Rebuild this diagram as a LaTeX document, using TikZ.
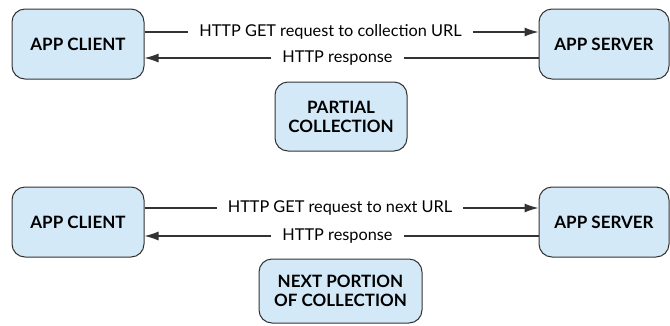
\documentclass[tikz,border=0pt]{standalone}
\usepackage{fontspec}
\setmainfont{Lato}
\usetikzlibrary{arrows.meta}
\definecolor{boxfill}{HTML}{D4E9F7}
\definecolor{boxline}{HTML}{333333}
\tikzset{
  box/.style={draw=boxline, fill=boxfill, line width=1pt, rounded corners=13pt, align=center, font=\fontsize{17}{19}\selectfont\bfseries, inner sep=0pt},
  lbl/.style={font=\fontsize{16.3}{18}\selectfont, inner xsep=11pt, inner ysep=0pt},
  conn/.style={line width=1.1pt, draw=boxline},
  tip/.style={-{Latex[length=14pt,width=9pt]}}
}
\begin{document}
\begin{tikzpicture}[x=1pt,y=-1pt]
\useasboundingbox (0,0) rectangle (670,325);
% top
\node[box, minimum width=132pt, minimum height=70pt] (c1) at (78,44) {APP CLIENT};
\node[box, minimum width=130pt, minimum height=70pt] (s1) at (604,44) {APP SERVER};
\node[box, minimum width=132pt, minimum height=69pt] (p1) at (341,116.5) {PARTIAL\\COLLECTION};
\node[lbl] (q1) at (330.5,32) {HTTP GET request to collection URL};
\node[lbl] (r1) at (337.5,58) {HTTP response};
\draw[conn] (c1.east |- q1) -- (q1.west);
\draw[conn, tip] (q1.east) -- (s1.west |- q1);
\draw[conn] (s1.west |- r1) -- (r1.east);
\draw[conn, tip] (r1.west) -- (c1.east |- r1);
% bottom
\node[box, minimum width=132pt, minimum height=70pt] (c2) at (78,222) {APP CLIENT};
\node[box, minimum width=130pt, minimum height=70pt] (s2) at (604,222) {APP SERVER};
\node[box, minimum width=163pt, minimum height=64pt] (p2) at (340.5,291) {NEXT PORTION\\OF COLLECTION};
\node[lbl] (q2) at (340,208) {HTTP GET request to next URL};
\node[lbl] (r2) at (337.5,236) {HTTP response};
\draw[conn] (c2.east |- q2) -- (q2.west);
\draw[conn, tip] (q2.east) -- (s2.west |- q2);
\draw[conn] (s2.west |- r2) -- (r2.east);
\draw[conn, tip] (r2.west) -- (c2.east |- r2);
\end{tikzpicture}
\end{document}
